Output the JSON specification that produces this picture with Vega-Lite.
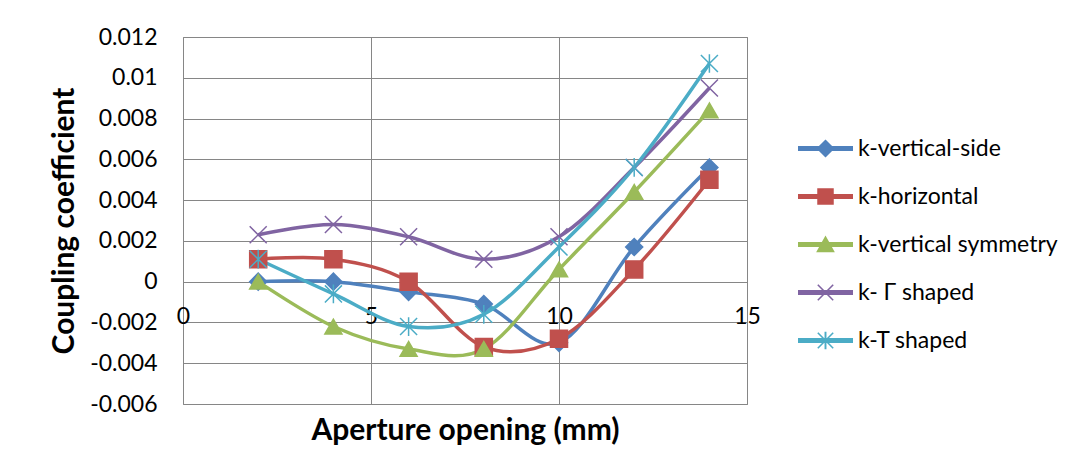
{
  "$schema": "https://vega.github.io/schema/vega-lite/v6.json",
  "width": 564,
  "height": 367,
  "autosize": "none",
  "padding": {"left": 183, "top": 37, "right": 341, "bottom": 70},
  "background": "white",
  "config": {
    "font": "Lato",
    "view": {"stroke": "#868686", "strokeWidth": 1},
    "axis": {"gridColor": "#868686", "gridOpacity": 1, "gridWidth": 1, "labelColor": "black", "titleColor": "black", "labelFontSize": 23, "labelFont": "Lato", "titleFont": "Lato"}
  },
  "data": {
    "values": [
      {"x": 2, "k": 0, "series": "k-vertical-side"},
      {"x": 4, "k": 0, "series": "k-vertical-side"},
      {"x": 6, "k": -0.0005, "series": "k-vertical-side"},
      {"x": 8, "k": -0.0011, "series": "k-vertical-side"},
      {"x": 10, "k": -0.003, "series": "k-vertical-side"},
      {"x": 12, "k": 0.0017, "series": "k-vertical-side"},
      {"x": 14, "k": 0.0056, "series": "k-vertical-side"},
      {"x": 2, "k": 0.0011, "series": "k-horizontal"},
      {"x": 4, "k": 0.0011, "series": "k-horizontal"},
      {"x": 6, "k": 0, "series": "k-horizontal"},
      {"x": 8, "k": -0.0032, "series": "k-horizontal"},
      {"x": 10, "k": -0.0028, "series": "k-horizontal"},
      {"x": 12, "k": 0.0006, "series": "k-horizontal"},
      {"x": 14, "k": 0.005, "series": "k-horizontal"},
      {"x": 2, "k": 0, "series": "k-vertical symmetry"},
      {"x": 4, "k": -0.0022, "series": "k-vertical symmetry"},
      {"x": 6, "k": -0.0033, "series": "k-vertical symmetry"},
      {"x": 8, "k": -0.0033, "series": "k-vertical symmetry"},
      {"x": 10, "k": 0.0006, "series": "k-vertical symmetry"},
      {"x": 12, "k": 0.0044, "series": "k-vertical symmetry"},
      {"x": 14, "k": 0.0084, "series": "k-vertical symmetry"},
      {"x": 2, "k": 0.0023, "series": "k- Γ shaped"},
      {"x": 4, "k": 0.0028, "series": "k- Γ shaped"},
      {"x": 6, "k": 0.0022, "series": "k- Γ shaped"},
      {"x": 8, "k": 0.0011, "series": "k- Γ shaped"},
      {"x": 10, "k": 0.0022, "series": "k- Γ shaped"},
      {"x": 12, "k": 0.0056, "series": "k- Γ shaped"},
      {"x": 14, "k": 0.0095, "series": "k- Γ shaped"},
      {"x": 2, "k": 0.0011, "series": "k-T shaped"},
      {"x": 4, "k": -0.0006, "series": "k-T shaped"},
      {"x": 6, "k": -0.0022, "series": "k-T shaped"},
      {"x": 8, "k": -0.0016, "series": "k-T shaped"},
      {"x": 10, "k": 0.0017, "series": "k-T shaped"},
      {"x": 12, "k": 0.0056, "series": "k-T shaped"},
      {"x": 14, "k": 0.0107, "series": "k-T shaped"}
    ]
  },
  "layer": [
    {
      "mark": {"type": "line", "interpolate": "cardinal", "tension": 0, "strokeWidth": 3.5},
      "encoding": {
        "x": {
          "field": "x", "type": "quantitative",
          "scale": {"domain": [0, 15], "nice": false},
          "axis": {
            "values": [0, 5, 10, 15], "grid": true, "ticks": false, "domain": false,
            "offset": -122, "labelPadding": 23, "labelFlush": false,
            "title": "Aperture opening (mm)", "titleFontSize": 30, "titleFontWeight": "bold",
            "titleY": 148, "titleBaseline": "middle"
          }
        },
        "y": {
          "field": "k", "type": "quantitative",
          "scale": {"domain": [-0.006, 0.012], "nice": false},
          "axis": {
            "values": [-0.006, -0.004, -0.002, 0, 0.002, 0.004, 0.006, 0.008, 0.01, 0.012],
            "grid": true, "ticks": false, "domain": false, "labelPadding": 26,
            "labelExpr": "replace(format(datum.value, '~g'), '\u2212', '-')",
            "title": "Coupling coefficient", "titleFontSize": 30, "titleFontWeight": "bold",
            "titleX": -119, "titleBaseline": "middle"
          }
        },
        "color": {
          "field": "series", "type": "nominal",
          "scale": {"domain": ["k-vertical-side", "k-horizontal", "k-vertical symmetry", "k- Γ shaped", "k-T shaped"], "range": ["#4F81BD", "#C0504D", "#9BBB59", "#8064A2", "#4BACC6"]},
          "legend": null
        }
      }
    },
    {
      "mark": {"type": "point", "filled": true, "size": 290, "strokeWidth": 1.5, "opacity": 1},
      "encoding": {
        "x": {"field": "x", "type": "quantitative"},
        "y": {"field": "k", "type": "quantitative"},
        "fill": {
          "field": "series", "type": "nominal",
          "scale": {"domain": ["k-vertical-side", "k-horizontal", "k-vertical symmetry", "k- Γ shaped", "k-T shaped"], "range": ["#4F81BD", "#C0504D", "#9BBB59", "#8064A2", "#4BACC6"]},
          "legend": null
        },
        "stroke": {
          "field": "series", "type": "nominal",
          "scale": {"domain": ["k-vertical-side", "k-horizontal", "k-vertical symmetry", "k- Γ shaped", "k-T shaped"], "range": ["#4F81BD", "#C0504D", "#9BBB59", "#8064A2", "#4BACC6"]},
          "legend": null
        },
        "shape": {
          "field": "series", "type": "nominal",
          "scale": {"domain": ["k-vertical-side", "k-horizontal", "k-vertical symmetry", "k- Γ shaped", "k-T shaped"], "range": ["diamond", "square", "triangle-up", "M-1,-1L1,1M-1,1L1,-1", "M-1,-1L1,1M-1,1L1,-1M0,-1.1L0,1.1"]},
          "legend": null
        }
      }
    },
    {
      "transform": [{"filter": "false"}],
      "mark": {"type": "point", "filled": true, "size": 3025, "opacity": 1},
      "encoding": {
        "color": {
          "field": "series", "type": "nominal",
          "scale": {"domain": ["k-vertical-side", "k-horizontal", "k-vertical symmetry", "k- Γ shaped", "k-T shaped"], "range": ["#4F81BD", "#C0504D", "#9BBB59", "#8064A2", "#4BACC6"]},
          "legend": {"title": null, "orient": "none", "legendX": 615, "legendY": 84, "padding": 0, "symbolSize": 3025, "symbolStrokeWidth": 0, "symbolOpacity": 1, "labelFontSize": 23, "labelFont": "Lato", "labelColor": "black", "labelOffset": 5, "labelLimit": 400, "rowPadding": 8}
        },
        "shape": {
          "field": "series", "type": "nominal",
          "scale": {"domain": ["k-vertical-side", "k-horizontal", "k-vertical symmetry", "k- Γ shaped", "k-T shaped"], "range": [
            "M-1,-0.09H1V0.09H-1Z M0,-0.33L0.33,0L0,0.33L-0.33,0Z",
            "M-1,-0.09H1V0.09H-1Z M-0.3,-0.3H0.3V0.3H-0.3Z",
            "M-1,-0.09H1V0.09H-1Z M0,-0.33L0.34,0.28H-0.34Z",
            "M-1,-0.09H1V0.09H-1Z M-0.3,-0.26L-0.26,-0.3L0.3,0.26L0.26,0.3Z M0.26,-0.3L0.3,-0.26L-0.26,0.3L-0.3,0.26Z",
            "M-1,-0.09H1V0.09H-1Z M-0.3,-0.26L-0.26,-0.3L0.3,0.26L0.26,0.3Z M0.26,-0.3L0.3,-0.26L-0.26,0.3L-0.3,0.26Z M-0.035,-0.32H0.035V0.32H-0.035Z"
          ]},
          "legend": {"title": null, "orient": "none", "legendX": 615, "legendY": 84, "padding": 0, "symbolSize": 3025, "symbolStrokeWidth": 0, "symbolOpacity": 1, "labelFontSize": 23, "labelFont": "Lato", "labelColor": "black", "labelOffset": 5, "labelLimit": 400, "rowPadding": 8}
        }
      }
    }
  ],
  "resolve": {"scale": {"color": "independent", "shape": "independent", "fill": "independent", "stroke": "independent"}}
}
